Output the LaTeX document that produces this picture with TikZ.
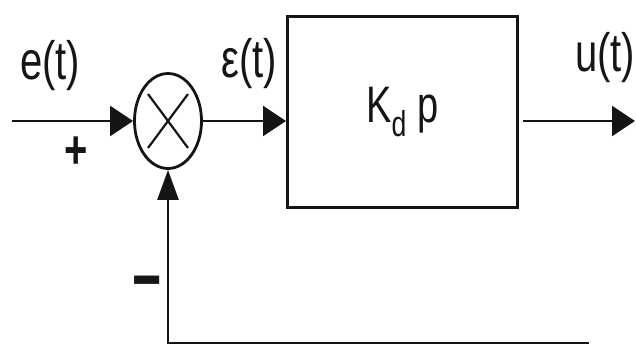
\documentclass[tikz,border=0pt]{standalone}
\usepackage{fontspec}
\setmainfont{Liberation Sans}
\usepackage{graphicx}
\usetikzlibrary{arrows.meta, positioning, shapes.geometric}
\definecolor{bdInk}{HTML}{151515}
\newcommand{\tallt}[1]{\scalebox{1}[1.35]{#1}}
\tikzset{
  sumnode/.style={
    ellipse, draw=bdInk, line width=2.8pt, inner sep=0pt,
    minimum width=67pt, minimum height=95pt
  },
  plant/.style={
    rectangle, draw=bdInk, line width=3pt, inner sep=0pt,
    minimum width=230pt, minimum height=191pt,
    font=\fontsize{38}{38}\selectfont, text=bdInk
  },
  sig/.style={font=\fontsize{40}{40}\selectfont, text=bdInk, inner sep=0pt},
  flow/.style={-{Triangle[length=23pt, width=30pt]}, line width=2.6pt, draw=bdInk},
  upflow/.style={flow, -{Triangle[length=30pt, width=21pt]}},
}
\begin{document}
\begin{tikzpicture}[x=1pt, y=1pt]
  \useasboundingbox (0,0) rectangle (636,345);
  \node[sumnode] (sum) at (168,224) {};
  \node[plant] (kd) at (402.5,233) {\tallt{K\textsubscript{d} p}};
  \coordinate (in) at (12,224);
  \coordinate (out) at (635,224);
  \coordinate (fb) at (589,2);
  % cross inside the summing junction
  \draw[line width=2.2pt, draw=bdInk] ([shift={(-20,27)}]sum.center) -- ([shift={(20,-27)}]sum.center);
  \draw[line width=2.2pt, draw=bdInk] ([shift={(-20,-27)}]sum.center) -- ([shift={(20,27)}]sum.center);
  % signals
  \draw[flow] (in) -- (sum);
  \draw[flow] (sum) -- (sum -| kd.west);
  \draw[flow] ([xshift=4pt]sum -| kd.east) -- (out);
  \draw[upflow] (fb) -- (fb -| sum) -- (sum);
  % labels
  \node[sig] (elbl) at (50,279) {\tallt{e(t)}};
  \node[sig] (plus) at (76,192) {\tallt{\textbf{+}}};
  \node[sig] (epslbl) at (249,281) {\tallt{ε(t)}};
  \node[sig] (ulbl) at (605,287) {\tallt{u(t)}};
  \node[sig] (minus) at (147,54) {\scalebox{1.25}[1.9]{\textbf{−}}};
\end{tikzpicture}
\end{document}
